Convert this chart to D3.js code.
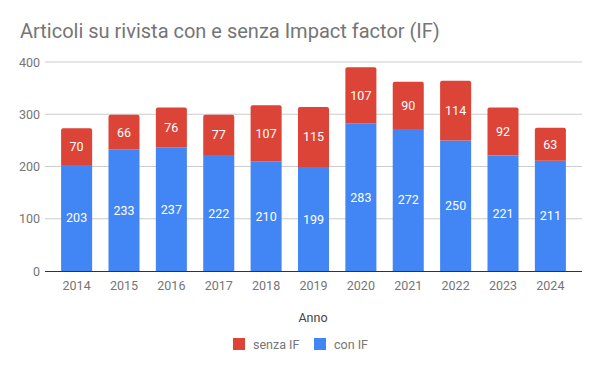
<!DOCTYPE html>
<html>
<head>
<meta charset="utf-8">
<script src="https://cdn.jsdelivr.net/npm/d3@7"></script>
<style>
  body { margin: 0; background: #fff; }
  text { font-family: Roboto, "Noto Sans", sans-serif; }
</style>
</head>
<body>
<svg id="chart"></svg>
<script>
// data
const years = ['2014', '2015', '2016', '2017', '2018', '2019', '2020', '2021', '2022', '2023', '2024'];
const conIF = [203, 233, 237, 222, 210, 199, 283, 272, 250, 221, 211];
const senzaIF = [70, 66, 76, 77, 107, 115, 107, 90, 114, 92, 63];
const yTicks = [0, 100, 200, 300, 400];

const width = 600, height = 371;
const plot = { left: 45, right: 582, top: 62, bottom: 271 };

const svg = d3.select('#chart')
    .attr('width', width)
    .attr('height', height);

const rows = years.map((y, i) => ({ year: y, con: conIF[i], senza: senzaIF[i] }));
const stack = d3.stack().keys(['con', 'senza'])(rows);

const x = d3.scaleBand()
    .domain(years)
    .range([plot.left, plot.right])
    .paddingInner(0.345)
    .paddingOuter(0.34);

const y = d3.scaleLinear()
    .domain([0, 400])
    .range([plot.bottom, plot.top]);

const colors = { con: '#4285f4', senza: '#db4437' };

// title
svg.append('text')
    .attr('x', 20)
    .attr('y', 38)
    .attr('font-size', 20)
    .attr('fill', '#757575')
    .text('Articoli su rivista con e senza Impact factor (IF)');

// grid
svg.append('g')
    .selectAll('line')
    .data(yTicks.filter(d => d > 0))
    .enter().append('line')
    .attr('x1', plot.left)
    .attr('x2', plot.right)
    .attr('y1', d => y(d))
    .attr('y2', d => y(d))
    .attr('stroke', '#cccccc')
    .attr('stroke-width', 1);

// y tick labels
svg.append('g')
    .selectAll('text')
    .data(yTicks)
    .enter().append('text')
    .attr('x', 40)
    .attr('y', d => y(d) + 4.5)
    .attr('text-anchor', 'end')
    .attr('font-size', 12.5)
    .attr('fill', '#757575')
    .text(d => d);

// bars with rounded top on the top segment
function barPath(x0, w, yTop, yBot, r) {
    if (r === 0) return `M${x0},${yBot}V${yTop}H${x0 + w}V${yBot}Z`;
    return `M${x0},${yBot}V${yTop + r}Q${x0},${yTop} ${x0 + r},${yTop}` +
        `H${x0 + w - r}Q${x0 + w},${yTop} ${x0 + w},${yTop + r}V${yBot}Z`;
}

stack.forEach((layer, li) => {
    const g = svg.append('g');
    g.selectAll('path')
        .data(layer)
        .enter().append('path')
        .attr('d', d => barPath(x(d.data.year), x.bandwidth(), y(d[1]), y(d[0]), li === 1 ? 2 : 0))
        .attr('fill', colors[layer.key]);
    g.selectAll('text')
        .data(layer)
        .enter().append('text')
        .attr('x', d => x(d.data.year) + x.bandwidth() / 2)
        .attr('y', d => (y(d[0]) + y(d[1])) / 2 + 4.5)
        .attr('text-anchor', 'middle')
        .attr('font-size', 12.5)
        .attr('fill', '#ffffff')
        .text(d => d[1] - d[0]);
});

// baseline
svg.append('line')
    .attr('x1', plot.left)
    .attr('x2', plot.right)
    .attr('y1', y(0) + 0.5)
    .attr('y2', y(0) + 0.5)
    .attr('stroke', '#333333')
    .attr('stroke-width', 1);

// x tick labels
svg.append('g')
    .selectAll('text')
    .data(years)
    .enter().append('text')
    .attr('x', d => x(d) + x.bandwidth() / 2)
    .attr('y', 290)
    .attr('text-anchor', 'middle')
    .attr('font-size', 12.5)
    .attr('fill', '#757575')
    .text(d => d);

// axis title
svg.append('text')
    .attr('x', 313)
    .attr('y', 322)
    .attr('text-anchor', 'middle')
    .attr('font-size', 12.5)
    .attr('fill', '#444444')
    .text('Anno');

// legend
const legend = [
    { key: 'senza', label: 'senza IF', x: 233 },
    { key: 'con', label: 'con IF', x: 314 }
];
const lg = svg.append('g')
    .selectAll('g')
    .data(legend)
    .enter().append('g')
    .attr('transform', d => `translate(${d.x},338)`);
lg.append('rect')
    .attr('width', 12)
    .attr('height', 12)
    .attr('fill', d => colors[d.key]);
lg.append('text')
    .attr('x', 20)
    .attr('y', 10.5)
    .attr('font-size', 12.5)
    .attr('fill', '#757575')
    .text(d => d.label);
</script>
</body>
</html>
